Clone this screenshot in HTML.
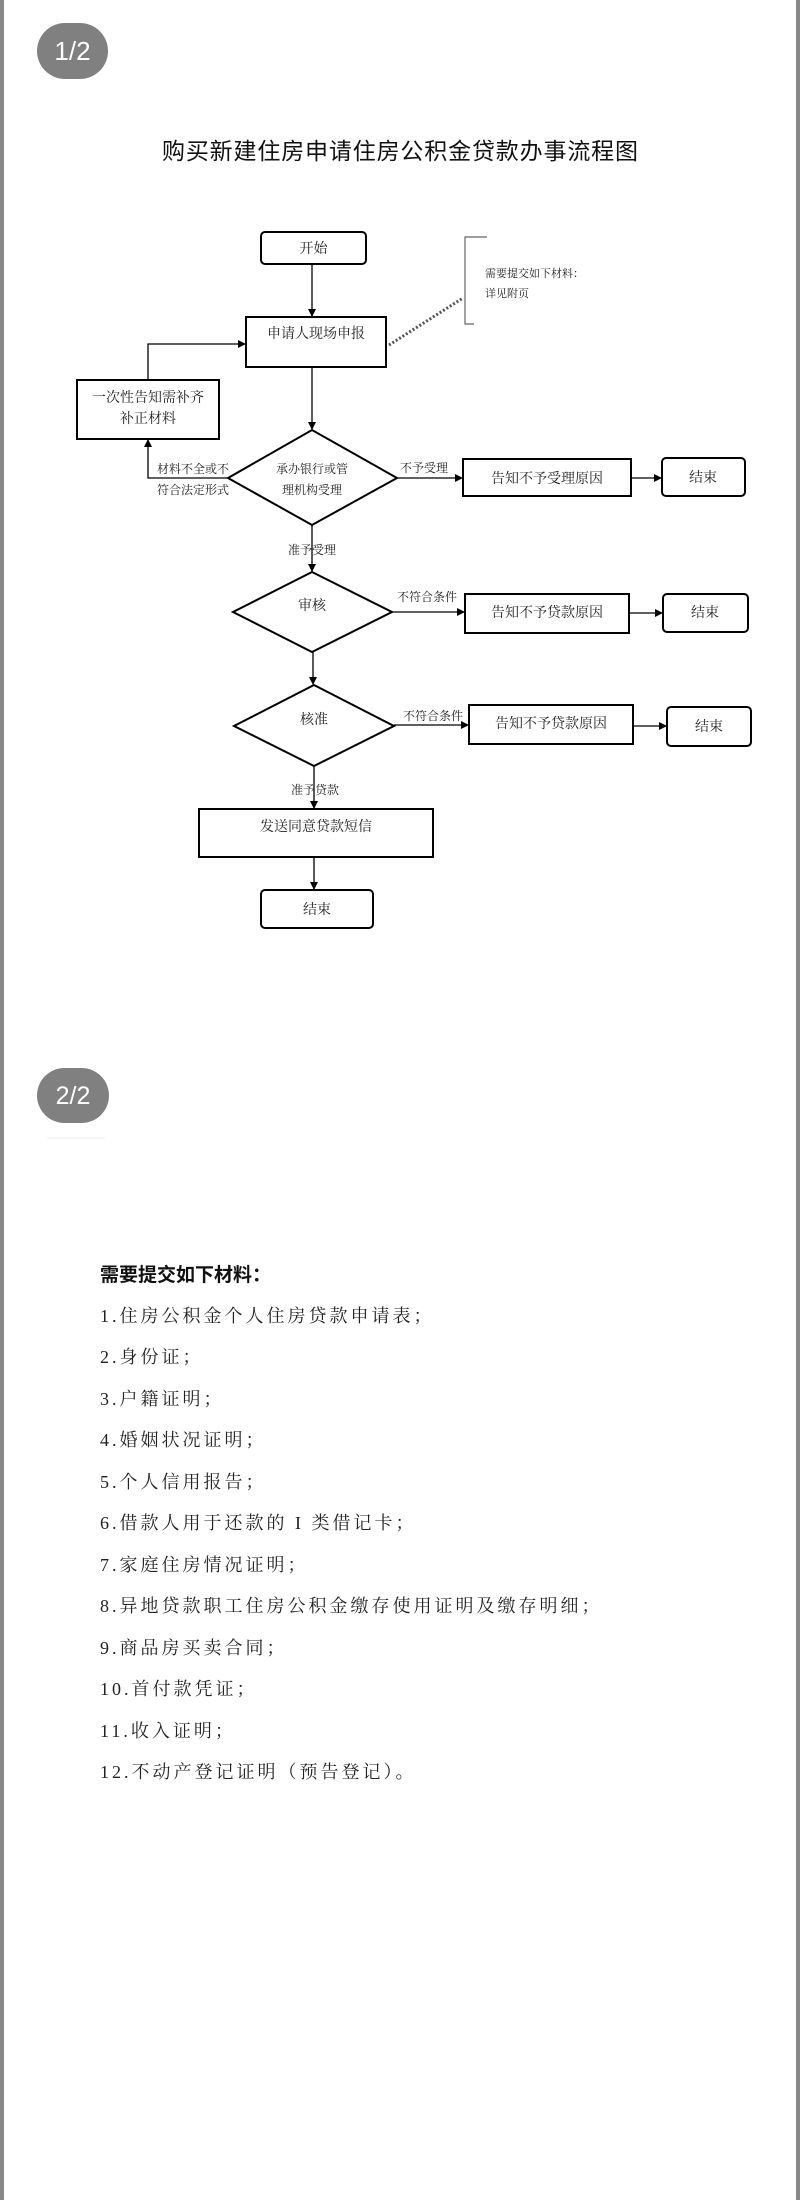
<!DOCTYPE html>
<html><head><meta charset="utf-8"><style>
html,body{margin:0;padding:0;background:#fff}
body{width:800px;height:2200px;position:relative;overflow:hidden}
svg{position:absolute;left:0;top:0}
.s{font-family:"Liberation Serif","Noto Serif CJK SC",serif;fill:#222}
</style></head><body>
<svg width="800" height="2200" viewBox="0 0 800 2200" xmlns="http://www.w3.org/2000/svg">
<defs><marker id="a" markerWidth="8" markerHeight="8" refX="7" refY="4" orient="auto" markerUnits="userSpaceOnUse"><path d="M0,0 L8,4 L0,8 z" fill="#000"/></marker></defs>
<rect x="0" y="0" width="4" height="2200" fill="#888"/>
<rect x="796" y="0" width="4" height="2200" fill="#888"/>
<!-- badge 1 -->
<rect x="37" y="23" width="71" height="56" rx="28" fill="#808080"/>
<text x="72.5" y="60" text-anchor="middle" font-family="Liberation Sans,sans-serif" font-size="26" fill="#fff">1/2</text>
<text x="400" y="159" text-anchor="middle" font-family="Liberation Sans,'Noto Sans CJK SC',sans-serif" font-size="23" fill="#111" textLength="476" lengthAdjust="spacing">购买新建住房申请住房公积金贷款办事流程图</text>
<g stroke="#000" stroke-width="2" fill="none">
<rect x="261" y="232" width="105" height="32" rx="4"/>
<rect x="246" y="317" width="140" height="50"/>
<rect x="77" y="380" width="142" height="59"/>
<polygon points="312,430 397,478 312,525 228,478"/>
<rect x="463" y="459" width="168" height="37"/>
<rect x="662" y="458" width="83" height="38" rx="4"/>
<polygon points="312,572 392,612 312,652 233,612"/>
<rect x="465" y="594" width="164" height="39"/>
<rect x="663" y="594" width="85" height="38" rx="4"/>
<polygon points="314,685 394,726 314,766 234,726"/>
<rect x="469" y="705" width="164" height="39"/>
<rect x="667" y="707" width="84" height="39" rx="4"/>
<rect x="199" y="809" width="234" height="48"/>
<rect x="261" y="890" width="112" height="38" rx="4"/>
</g>
<g stroke="#000" stroke-width="1.3" fill="none" marker-end="url(#a)">
<line x1="312" y1="264" x2="312" y2="316"/>
<polyline points="148,380 148,344 245,344"/>
<line x1="312" y1="367" x2="312" y2="429"/>
<polyline points="228,478 148,478 148,440"/>
<line x1="397" y1="478" x2="462" y2="478"/>
<line x1="631" y1="478" x2="661" y2="478"/>
<line x1="312" y1="525" x2="312" y2="571"/>
<line x1="392" y1="612" x2="464" y2="612"/>
<line x1="629" y1="613" x2="662" y2="613"/>
<line x1="313" y1="652" x2="313" y2="684"/>
<line x1="394" y1="725" x2="468" y2="725"/>
<line x1="633" y1="726" x2="666" y2="726"/>
<line x1="314" y1="766" x2="314" y2="808"/>
<line x1="314" y1="857" x2="314" y2="889"/>
</g>
<line x1="389" y1="345" x2="463" y2="298" stroke="#555" stroke-width="3" stroke-dasharray="2,2"/>
<polyline points="487,237 465,237 465,324 474,324" stroke="#666" stroke-width="1.2" fill="none"/>
<g class="s" font-size="13">
<text x="313.5" y="253" text-anchor="middle" font-size="14">开始</text>
<text x="316" y="338" text-anchor="middle" font-size="14">申请人现场申报</text>
<text x="485" y="277" font-size="11">需要提交如下材料：</text>
<text x="485" y="297" font-size="11">详见附页</text>
<text x="148" y="402" text-anchor="middle" font-size="14">一次性告知需补齐</text>
<text x="148" y="423" text-anchor="middle" font-size="14">补正材料</text>
<text x="157" y="473" font-size="12">材料不全或不</text>
<text x="157" y="494" font-size="12">符合法定形式</text>
<text x="312" y="473" text-anchor="middle" font-size="12">承办银行或管</text>
<text x="312" y="494" text-anchor="middle" font-size="12">理机构受理</text>
<text x="400" y="472" font-size="12">不予受理</text>
<text x="547" y="483" text-anchor="middle" font-size="14">告知不予受理原因</text>
<text x="703" y="482" text-anchor="middle" font-size="14">结束</text>
<text x="288" y="554" font-size="12">准予受理</text>
<text x="312" y="610" text-anchor="middle" font-size="14">审核</text>
<text x="397" y="601" font-size="12">不符合条件</text>
<text x="547" y="617" text-anchor="middle" font-size="14">告知不予贷款原因</text>
<text x="705" y="617" text-anchor="middle" font-size="14">结束</text>
<text x="314" y="724" text-anchor="middle" font-size="14">核准</text>
<text x="403" y="720" font-size="12">不符合条件</text>
<text x="551" y="728" text-anchor="middle" font-size="14">告知不予贷款原因</text>
<text x="709" y="731" text-anchor="middle" font-size="14">结束</text>
<text x="291" y="794" font-size="12">准予贷款</text>
<text x="316" y="831" text-anchor="middle" font-size="14">发送同意贷款短信</text>
<text x="317" y="914" text-anchor="middle" font-size="14">结束</text>
</g>
<!-- badge 2 -->
<rect x="37" y="1068" width="72" height="55" rx="27.5" fill="#808080"/>
<text x="73" y="1104" text-anchor="middle" font-family="Liberation Sans,sans-serif" font-size="25" fill="#fff">2/2</text>
<line x1="47" y1="1138" x2="105" y2="1138" stroke="#eee" stroke-width="1"/>
<text x="100" y="1281" font-family="Liberation Sans,'Noto Sans CJK SC',sans-serif" font-size="19" font-weight="bold" fill="#111">需要提交如下材料：</text>
<g font-family="Liberation Serif,'Noto Serif CJK SC',serif" font-size="18" fill="#222" letter-spacing="3">
<text x="100" y="1322">1.住房公积金个人住房贷款申请表；</text>
<text x="100" y="1363">2.身份证；</text>
<text x="100" y="1405">3.户籍证明；</text>
<text x="100" y="1446">4.婚姻状况证明；</text>
<text x="100" y="1488">5.个人信用报告；</text>
<text x="100" y="1529">6.借款人用于还款的 I 类借记卡；</text>
<text x="100" y="1571">7.家庭住房情况证明；</text>
<text x="100" y="1612">8.异地贷款职工住房公积金缴存使用证明及缴存明细；</text>
<text x="100" y="1654">9.商品房买卖合同；</text>
<text x="100" y="1695">10.首付款凭证；</text>
<text x="100" y="1737">11.收入证明；</text>
<text x="100" y="1778">12.不动产登记证明（预告登记）。</text>
</g>
</svg>
</body></html>
